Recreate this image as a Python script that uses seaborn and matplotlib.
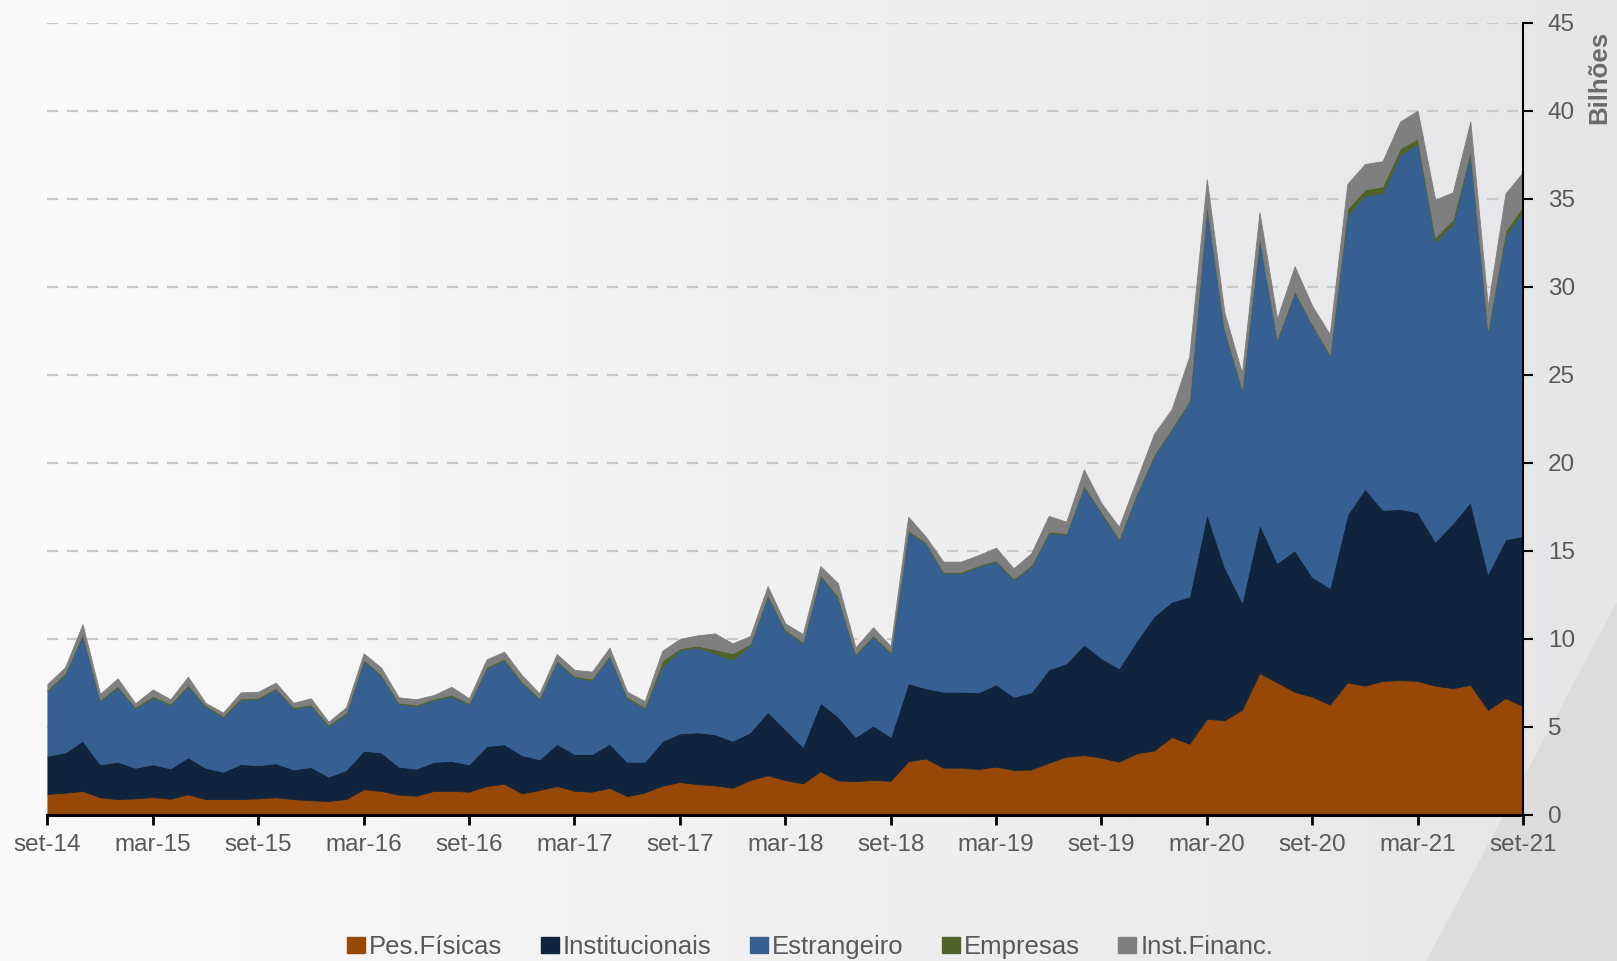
import matplotlib
matplotlib.use("Agg")
import matplotlib.pyplot as plt
import seaborn as sns
import numpy as np
import pandas as pd
from matplotlib.patches import Patch, Polygon

# monthly values, set-14 .. set-21 (R$ bilhões)
meses = pd.date_range("2014-09-01", "2021-09-01", freq="MS")

pes_fisicas = [1.18, 1.25, 1.35, 0.99, 0.89, 0.93, 1.00, 0.91, 1.16, 0.89,
               0.89, 0.89, 0.93, 0.99, 0.89, 0.82, 0.78, 0.89, 1.44, 1.35,
               1.14, 1.08, 1.35, 1.36, 1.31, 1.63, 1.76, 1.22, 1.40, 1.63,
               1.36, 1.31, 1.53, 1.06, 1.26, 1.65, 1.86, 1.74, 1.67, 1.53,
               1.97, 2.24, 1.97, 1.78, 2.47, 1.95, 1.91, 1.97, 1.93, 3.03,
               3.20, 2.67, 2.67, 2.60, 2.73, 2.54, 2.57, 2.95, 3.30, 3.39,
               3.24, 3.01, 3.49, 3.65, 4.42, 4.03, 5.45, 5.37, 5.96, 8.05,
               7.52, 6.98, 6.71, 6.26, 7.52, 7.33, 7.60, 7.65, 7.60, 7.33,
               7.19, 7.38, 5.96, 6.63, 6.17]

institucionais = [2.17, 2.29, 2.85, 1.87, 2.12, 1.74, 1.86, 1.72, 2.10, 1.78,
                  1.55, 1.99, 1.88, 1.93, 1.69, 1.89, 1.38, 1.65, 2.20, 2.19,
                  1.59, 1.53, 1.66, 1.69, 1.55, 2.27, 2.24, 2.17, 1.75, 2.39,
                  2.09, 2.14, 2.50, 1.95, 1.75, 2.53, 2.76, 2.94, 2.90, 2.67,
                  2.71, 3.61, 2.88, 2.08, 3.89, 3.62, 2.52, 3.09, 2.50, 4.44,
                  3.98, 4.32, 4.32, 4.35, 4.68, 4.16, 4.38, 5.31, 5.30, 6.29,
                  5.65, 5.31, 6.40, 7.64, 7.68, 8.37, 11.65, 8.72, 6.12, 8.46,
                  6.79, 8.05, 6.79, 6.63, 9.53, 11.19, 9.72, 9.72, 9.58, 8.19,
                  9.37, 10.39, 7.73, 9.02, 9.67]

estrangeiro = [3.68, 4.43, 6.01, 3.60, 4.23, 3.37, 3.81, 3.60, 4.05, 3.47,
               3.09, 3.67, 3.76, 4.20, 3.46, 3.48, 2.88, 3.18, 5.11, 4.34,
               3.56, 3.57, 3.51, 3.69, 3.41, 4.42, 4.79, 4.11, 3.42, 4.66,
               4.36, 4.20, 4.95, 3.60, 3.03, 4.23, 4.74, 4.83, 4.60, 4.59,
               4.96, 6.58, 5.60, 5.88, 7.20, 6.72, 4.64, 5.05, 4.75, 8.61,
               8.24, 6.73, 6.73, 7.15, 6.97, 6.64, 7.15, 7.73, 7.33, 8.96,
               8.24, 7.29, 8.28, 9.11, 9.80, 11.05, 17.53, 13.43, 12.08, 16.24,
               12.67, 14.63, 14.29, 13.20, 17.04, 16.65, 17.98, 20.13, 20.94, 17.02,
               17.00, 19.81, 13.83, 17.24, 18.44]

empresas = [0.08, 0.08, 0.08, 0.08, 0.08, 0.08, 0.08, 0.08, 0.08, 0.08,
            0.08, 0.08, 0.08, 0.08, 0.08, 0.08, 0.08, 0.08, 0.08, 0.08,
            0.08, 0.08, 0.08, 0.08, 0.08, 0.08, 0.08, 0.08, 0.08, 0.08,
            0.08, 0.08, 0.08, 0.08, 0.08, 0.34, 0.10, 0.10, 0.23, 0.38,
            0.08, 0.08, 0.08, 0.08, 0.08, 0.13, 0.08, 0.08, 0.08, 0.08,
            0.08, 0.08, 0.08, 0.08, 0.08, 0.08, 0.08, 0.08, 0.08, 0.08,
            0.08, 0.08, 0.08, 0.08, 0.08, 0.08, 0.08, 0.08, 0.08, 0.08,
            0.08, 0.10, 0.08, 0.08, 0.35, 0.35, 0.40, 0.35, 0.30, 0.27,
            0.27, 0.15, 0.08, 0.30, 0.30]

inst_financ = [0.32, 0.32, 0.53, 0.32, 0.43, 0.21, 0.37, 0.25, 0.45, 0.14,
               0.19, 0.32, 0.34, 0.30, 0.24, 0.34, 0.16, 0.30, 0.34, 0.39,
               0.30, 0.30, 0.20, 0.45, 0.26, 0.43, 0.39, 0.36, 0.25, 0.37,
               0.34, 0.40, 0.43, 0.30, 0.34, 0.56, 0.53, 0.58, 0.90, 0.57,
               0.43, 0.48, 0.34, 0.45, 0.49, 0.73, 0.36, 0.46, 0.32, 0.77,
               0.30, 0.58, 0.58, 0.57, 0.71, 0.58, 0.67, 0.91, 0.64, 0.90,
               0.49, 0.67, 0.77, 1.17, 1.07, 2.51, 1.40, 0.94, 0.86, 1.40,
               1.13, 1.40, 1.04, 1.13, 1.40, 1.45, 1.43, 1.53, 1.58, 2.14,
               1.53, 1.65, 1.31, 2.11, 1.93]

series_nomes = ["Pes.Físicas", "Institucionais", "Estrangeiro", "Empresas", "Inst.Financ."]
cores = ["#974806", "#10243e", "#366092", "#4f6228", "#7f7f7f"]

rotulos_x = ["set-14", "mar-15", "set-15", "mar-16", "set-16", "mar-17", "set-17",
             "mar-18", "set-18", "mar-19", "set-19", "mar-20", "set-20", "mar-21", "set-21"]

df = pd.DataFrame({"mes": meses,
                   "Pes.Físicas": pes_fisicas,
                   "Institucionais": institucionais,
                   "Estrangeiro": estrangeiro,
                   "Empresas": empresas,
                   "Inst.Financ.": inst_financ})

sns.set_theme(style="white")
plt.rcParams["font.family"] = ["Liberation Sans", "DejaVu Sans"]

fig = plt.figure(figsize=(16.17, 9.61), dpi=100)

# background gradient
bg = fig.add_axes([0, 0, 1, 1], zorder=-10)
grad = np.linspace(0, 1, 256).reshape(1, -1)
bg.imshow(grad, aspect="auto", extent=[0, 1, 0, 1],
          cmap=matplotlib.colors.LinearSegmentedColormap.from_list("bgc", ["#fafafa", "#e6e6e8"]))
bg.add_patch(Polygon([(1427 / 1617, 0), (1.0, 1 - 603 / 961), (1.0, 0)],
                     closed=True, color="#dcdcdd", zorder=2))
bg.set_xlim(0, 1)
bg.set_ylim(0, 1)
bg.axis("off")

ax = fig.add_axes([47.4 / 1617, 1 - 814.7 / 961, (1523 - 47.4) / 1617, (814.7 - 22.7) / 961])
ax.patch.set_alpha(0)

x = np.arange(len(df))
ax.stackplot(x, *[df[c] for c in series_nomes], colors=cores, labels=series_nomes,
             edgecolor="face", linewidth=0.6, zorder=3)

ax.set_xlim(0, len(df) - 1)
ax.set_ylim(0, 45)
ax.set_yticks(np.arange(0, 46, 5))
ax.set_xticks(x[::6])
ax.set_xticklabels(rotulos_x)

for yv in range(5, 46, 5):
    ax.axhline(yv, color="#c9c9c9", linestyle=(0, (5, 4)), linewidth=1.6, zorder=1)

sns.despine(ax=ax, left=True, top=True, right=False)
ax.spines["right"].set_color("black")
ax.spines["right"].set_linewidth(1.5)
ax.spines["bottom"].set_color("black")
ax.spines["bottom"].set_linewidth(2.2)
ax.spines["right"].set_zorder(5)
ax.spines["bottom"].set_zorder(5)

ax.yaxis.tick_right()
ax.tick_params(axis="y", which="major", right=True, left=False, direction="out",
               length=7, width=1.5, color="black", labelsize=17.5, labelcolor="#595959", pad=11)
ax.tick_params(axis="x", which="major", bottom=True, direction="out",
               length=7, width=2, color="black", labelsize=17.5, labelcolor="#595959", pad=7)
ax.grid(False)

ax.text(1.052, 0.99, "Bilhões", transform=ax.transAxes, rotation=90, ha="center", va="top",
        fontsize=18.5, fontweight="bold", color="#6b6b6b")

handles = [Patch(facecolor=c, edgecolor=c) for c in cores]
leg = fig.legend(handles, series_nomes, loc="center", bbox_to_anchor=(0.501, 0.0145),
                 ncol=5, frameon=False, fontsize=18.5, handlelength=0.7, handleheight=0.62,
                 handletextpad=0.15, columnspacing=1.5)
for t in leg.get_texts():
    t.set_color("#595959")

fig.savefig("out.png", dpi=100)
